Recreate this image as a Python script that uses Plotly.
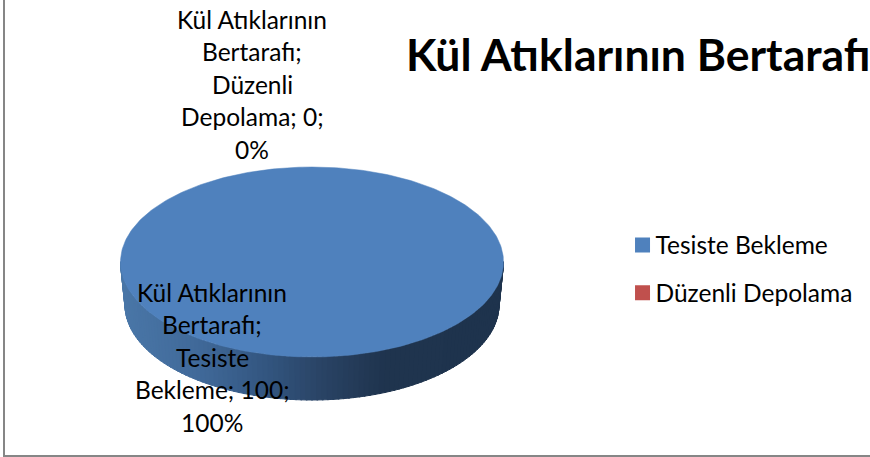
import numpy as np
import plotly.graph_objects as go

# Data
categories = ["Tesiste Bekleme", "Düzenli Depolama"]
values = [100, 0]
percents = ["100%", "0%"]
colors = ["#4F81BD", "#C0504D"]
series_name = "Kül Atıklarının Bertarafı"
label_lines = [
    ["Kül Atıklarının", "Bertarafı;", "Tesiste", "Bekleme; 100;", "100%"],
    ["Kül Atıklarının", "Bertarafı;", "Düzenli", "Depolama; 0;", "0%"],
]

# Pie geometry (page pixel space)
CX, CY, RX, RY = 312, 262, 191.5, 95
BCY, BRX, BRY = 305, 187, 95
FONT = "Lato"

total = sum(values)
theta_spans = [2 * np.pi * v / total for v in values]

fig = go.Figure()

# side wall: strips along the front of the pie with the shading of the reference
stops_x = [121, 200, 270, 320, 385, 503]
stops_c = [(74, 119, 168), (64, 105, 153), (50, 85, 127), (42, 68, 102), (31, 52, 78), (30, 51, 77)]
n = 110
edges = np.linspace(np.pi, 0, n + 1)
for a0, a1 in zip(edges[:-1], edges[1:]):
    t = np.linspace(a0 + 0.004, a1 - 0.004, 4)
    xt = CX + RX * np.cos(t)
    yt = CY + RY * np.sin(t)
    xb = CX + BRX * np.cos(t)
    yb = BCY + BRY * np.sin(t)
    xm = (xt.mean() + xb.mean()) / 2
    rgb = [int(round(np.interp(xm, stops_x, [c[i] for c in stops_c]))) for i in range(3)]
    col = f"rgb({rgb[0]},{rgb[1]},{rgb[2]})"
    fig.add_trace(go.Scatter(
        x=list(xt) + list(xb[::-1]) + [xt[0]],
        y=list(yt) + list(yb[::-1]) + [yt[0]],
        mode="lines", fill="toself", fillcolor=col,
        line=dict(color=col, width=1),
        showlegend=False, hoverinfo="skip"))

# top face, one sector per category
start = -np.pi / 2
for name, span, col in zip(categories, theta_spans, colors):
    if span > 0:
        t = np.linspace(start, start + span, 361)
        fig.add_trace(go.Scatter(
            x=CX + RX * np.cos(t), y=CY + RY * np.sin(t),
            mode="lines", fill="toself", fillcolor=col,
            line=dict(color=col, width=0.5),
            showlegend=False, name=name))
    start += span

# legend entries, each in its own legend for the wide row pitch
legend_ids = ["legend", "legend2"]
for name, col, lid in zip(categories, colors, legend_ids):
    fig.add_trace(go.Scatter(
        x=[None], y=[None], mode="markers", name=name, legend=lid,
        marker=dict(symbol="square", size=15, color=col)))

annotations = []
# title
annotations.append(dict(
    x=404, y=53, xref="x", yref="y", text=f"<b>{series_name}</b>", showarrow=False,
    xanchor="left", yanchor="middle",
    font=dict(family=FONT, size=44.5, color="#000000")))

# data labels, one annotation per line for the wide line pitch
label_centres = [(212, 292), (252, 19)]
for lines, (lx, ly) in zip(label_lines, label_centres):
    for i, line in enumerate(lines):
        annotations.append(dict(
            x=lx, y=ly + i * 32.6, xref="x", yref="y", text=line, showarrow=False,
            xanchor="center", yanchor="middle",
            font=dict(family=FONT, size=24.5, color="#000000")))

legend_style = dict(xanchor="left", yanchor="middle", orientation="v",
                    font=dict(family=FONT, size=24.5, color="#000000"),
                    itemwidth=30, bgcolor="rgba(0,0,0,0)")

fig.update_layout(
    width=870, height=457,
    margin=dict(l=0, r=0, t=0, b=0),
    paper_bgcolor="white", plot_bgcolor="white",
    xaxis=dict(range=[0, 870], visible=False, fixedrange=True),
    yaxis=dict(range=[457, 0], visible=False, fixedrange=True),
    legend=dict(x=0.7075, y=0.464, **legend_style),
    legend2=dict(x=0.7075, y=0.359, **legend_style),
    annotations=annotations,
    shapes=[dict(type="rect", xref="x", yref="y", x0=4, y0=-5, x1=880, y1=456,
                 line=dict(color="#868686", width=2), fillcolor="rgba(0,0,0,0)", layer="below")],
)

post = """
document.body.style.margin = '0';
function nudge() {
  document.querySelectorAll('.legendsymbols').forEach(function (g) {
    g.setAttribute('transform', 'translate(7,0)');
  });
}
nudge();
setTimeout(nudge, 0);
"""
fig.write_html("out.html", config={"displayModeBar": False}, post_script=post)
